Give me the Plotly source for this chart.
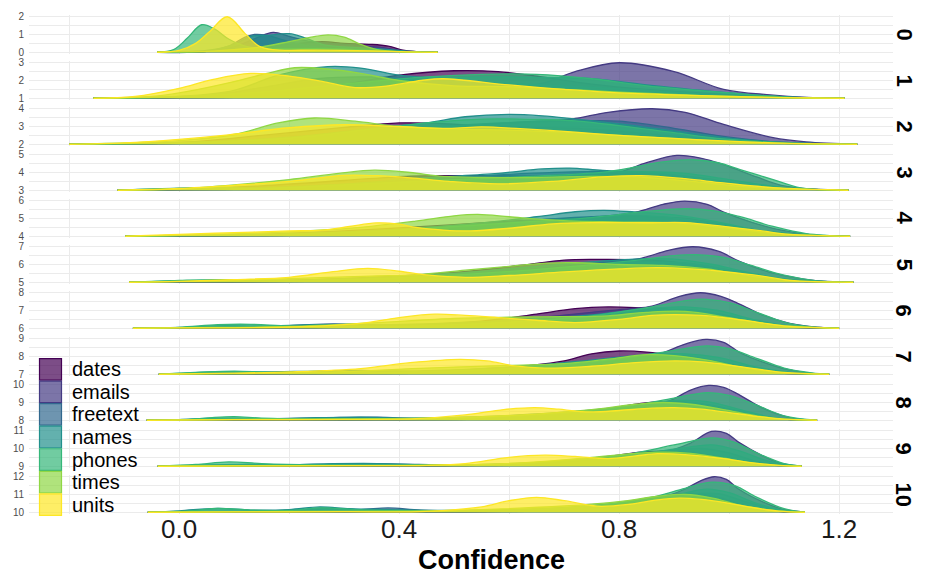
import plotly.graph_objects as go
from plotly.subplots import make_subplots

# ---------------- data ----------------
CATEGORIES = ["dates", "emails", "freetext", "names", "phones", "times", "units"]
COLORS = ["#440154", "#443A83", "#31688E", "#21908C", "#35B779", "#8FD744", "#FDE725"]
FACETS = [0, 1, 2, 3, 4, 5, 6, 7, 8, 9, 10]
X_TICKS = [0.0, 0.4, 0.8, 1.2]
X_TICK_TEXT = ["0.0", "0.4", "0.8", "1.2"]
X_MINOR = [-0.2, 0.2, 0.6, 1.0]

# ridge heights (density, scaled) read at confidence values, one list per facet
DATES = [
    [(-0.04,0),(0.05,0.05),(0.12,0.2),(0.2,0.45),(0.26,0.6),(0.3,0.5),(0.345,0.45),(0.38,0.35),(0.41,0.1),(0.44,0.02),(0.47,0)],
    [(-0.156,0),(0.0,0.05),(0.15,0.3),(0.3,0.8),(0.4,1.3),(0.5,1.55),(0.58,1.5),(0.66,1.2),(0.75,0.8),(0.85,0.5),(1.0,0.2),(1.1,0.05),(1.21,0)],
    [(-0.2,0),(0.0,0.1),(0.15,0.5),(0.3,0.95),(0.4,1.2),(0.47,1.18),(0.55,1.05),(0.65,0.95),(0.75,0.85),(0.85,0.6),(1.0,0.2),(1.1,0.05),(1.233,0)],
    [(-0.112,0),(0.0,0.05),(0.15,0.25),(0.3,0.55),(0.42,0.8),(0.5,0.83),(0.57,0.82),(0.65,0.8),(0.75,0.9),(0.85,0.95),(0.95,0.6),(1.05,0.2),(1.217,0)],
    [(-0.098,0),(0.1,0.05),(0.3,0.3),(0.5,0.65),(0.6,0.85),(0.68,0.97),(0.75,1.05),(0.85,1.1),(0.92,1.0),(1.0,0.6),(1.1,0.15),(1.22,0)],
    [(-0.091,0),(0.1,0.05),(0.3,0.2),(0.5,0.55),(0.62,0.95),(0.7,1.25),(0.76,1.29),(0.82,1.28),(0.88,1.2),(0.95,0.9),(1.03,0.4),(1.1,0.1),(1.226,0)],
    [(-0.084,0),(0.2,0.03),(0.4,0.15),(0.55,0.4),(0.65,0.8),(0.72,1.1),(0.78,1.2),(0.84,1.15),(0.9,1.05),(0.96,0.8),(1.03,0.35),(1.1,0.08),(1.2,0)],
    [(-0.037,0),(0.2,0.03),(0.4,0.1),(0.55,0.3),(0.64,0.5),(0.7,0.75),(0.75,1.15),(0.8,1.31),(0.85,1.25),(0.9,1.05),(0.96,0.7),(1.03,0.25),(1.1,0.05),(1.182,0)],
    [(-0.059,0),(0.3,0.02),(0.55,0.1),(0.7,0.35),(0.78,0.65),(0.84,0.95),(0.88,1.05),(0.92,1.02),(0.97,0.8),(1.03,0.35),(1.1,0.06),(1.16,0)],
    [(-0.039,0),(0.3,0.02),(0.55,0.08),(0.7,0.3),(0.78,0.55),(0.84,0.8),(0.88,0.85),(0.93,0.8),(0.98,0.55),(1.04,0.15),(1.132,0)],
    [(-0.057,0),(0.4,0.02),(0.6,0.06),(0.75,0.3),(0.84,0.7),(0.9,1.0),(0.94,1.05),(0.98,0.85),(1.03,0.35),(1.09,0.05),(1.138,0)],
]
EMAILS = [
    [(-0.04,0),(0.05,0.05),(0.1,0.3),(0.14,0.8),(0.171,1.12),(0.2,0.9),(0.24,0.6),(0.3,0.45),(0.36,0.3),(0.42,0.05),(0.47,0)],
    [(-0.156,0),(0.1,0.05),(0.3,0.2),(0.45,0.45),(0.58,0.65),(0.66,0.84),(0.72,1.5),(0.8,2.0),(0.9,1.5),(0.99,0.5),(1.075,0.19),(1.14,0.05),(1.21,0)],
    [(-0.2,0),(0.0,0.05),(0.2,0.25),(0.4,0.7),(0.55,1.1),(0.65,1.3),(0.714,1.42),(0.78,1.8),(0.86,2.0),(0.92,1.8),(0.99,1.12),(1.08,0.37),(1.14,0.13),(1.233,0)],
    [(-0.112,0),(0.1,0.05),(0.3,0.25),(0.5,0.55),(0.65,0.8),(0.75,0.95),(0.8,1.03),(0.85,1.55),(0.905,1.96),(0.95,1.8),(0.99,1.44),(1.05,0.75),(1.095,0.28),(1.15,0.06),(1.217,0)],
    [(-0.098,0),(0.2,0.05),(0.45,0.35),(0.6,0.7),(0.7,0.95),(0.78,1.15),(0.83,1.36),(0.88,1.8),(0.919,1.98),(0.96,1.8),(0.99,1.36),(1.04,0.8),(1.095,0.34),(1.15,0.08),(1.22,0)],
    [(-0.091,0),(0.2,0.03),(0.4,0.2),(0.6,0.6),(0.72,0.95),(0.8,1.2),(0.84,1.35),(0.89,1.8),(0.934,2.0),(0.98,1.75),(1.02,1.16),(1.07,0.6),(1.11,0.32),(1.16,0.08),(1.226,0)],
    [(-0.084,0),(0.2,0.02),(0.4,0.1),(0.6,0.45),(0.75,0.9),(0.82,1.1),(0.86,1.25),(0.91,1.8),(0.948,2.0),(0.985,1.8),(1.02,1.35),(1.06,0.75),(1.11,0.28),(1.16,0.06),(1.2,0)],
    [(-0.037,0),(0.3,0.02),(0.5,0.1),(0.65,0.4),(0.78,0.85),(0.87,1.12),(0.92,1.7),(0.958,1.96),(0.99,1.8),(1.02,1.21),(1.06,0.7),(1.11,0.24),(1.15,0.05),(1.182,0)],
    [(-0.059,0),(0.4,0.02),(0.6,0.1),(0.75,0.45),(0.84,0.85),(0.89,1.08),(0.93,1.7),(0.963,1.96),(0.99,1.85),(1.017,1.46),(1.06,0.7),(1.11,0.15),(1.16,0)],
    [(-0.039,0),(0.5,0.02),(0.7,0.15),(0.82,0.5),(0.9,0.95),(0.93,1.3),(0.968,1.96),(0.995,1.85),(1.017,1.36),(1.06,0.6),(1.095,0.15),(1.132,0)],
    [(-0.057,0),(0.5,0.02),(0.7,0.12),(0.82,0.5),(0.89,0.95),(0.92,1.31),(0.95,1.8),(0.973,2.0),(0.995,1.85),(1.017,1.31),(1.06,0.6),(1.095,0.19),(1.138,0)],
]
FREETEXT = [
    [(-0.04,0),(0.05,0.05),(0.09,0.35),(0.12,0.85),(0.137,1.0),(0.16,0.95),(0.2,0.6),(0.25,0.3),(0.32,0.15),(0.4,0.05),(0.47,0)],
    [(-0.156,0),(0.05,0.15),(0.15,0.6),(0.25,1.1),(0.35,1.2),(0.45,1.0),(0.55,0.9),(0.7,0.7),(0.85,0.45),(1.0,0.15),(1.21,0)],
    [(-0.2,0),(0.0,0.08),(0.2,0.35),(0.4,0.8),(0.55,1.15),(0.7,1.3),(0.8,1.3),(0.9,0.9),(1.0,0.4),(1.1,0.1),(1.233,0)],
    [(-0.112,0),(0.0,0.05),(0.2,0.2),(0.4,0.5),(0.6,0.9),(0.75,1.05),(0.85,1.0),(0.95,0.7),(1.05,0.25),(1.217,0)],
    [(-0.098,0),(0.2,0.1),(0.4,0.35),(0.6,0.8),(0.75,1.1),(0.85,1.15),(0.95,0.85),(1.05,0.35),(1.15,0.05),(1.22,0)],
    [(-0.091,0),(0.1,0.08),(0.3,0.15),(0.5,0.4),(0.7,0.85),(0.82,1.1),(0.92,1.1),(1.0,0.7),(1.08,0.25),(1.226,0)],
    [(-0.084,0),(0.0,0.03),(0.1,0.1),(0.2,0.15),(0.28,0.25),(0.34,0.2),(0.45,0.22),(0.6,0.4),(0.75,0.7),(0.85,1.0),(0.93,1.05),(1.0,0.7),(1.08,0.2),(1.2,0)],
    [(-0.037,0),(0.05,0.05),(0.15,0.1),(0.25,0.15),(0.33,0.22),(0.42,0.15),(0.55,0.25),(0.7,0.6),(0.83,1.0),(0.92,1.05),(1.0,0.6),(1.08,0.15),(1.182,0)],
    [(-0.059,0),(0.1,0.05),(0.2,0.1),(0.28,0.15),(0.36,0.17),(0.45,0.1),(0.6,0.2),(0.75,0.5),(0.85,0.85),(0.93,1.0),(1.0,0.65),(1.07,0.15),(1.16,0)],
    [(-0.039,0),(0.1,0.05),(0.25,0.1),(0.32,0.14),(0.4,0.12),(0.5,0.08),(0.65,0.15),(0.78,0.45),(0.88,0.85),(0.95,1.0),(1.0,0.75),(1.06,0.2),(1.132,0)],
    [(-0.057,0),(0.1,0.05),(0.2,0.1),(0.27,0.2),(0.33,0.15),(0.38,0.24),(0.44,0.12),(0.55,0.1),(0.7,0.25),(0.82,0.6),(0.92,1.0),(0.98,1.05),(1.03,0.6),(1.09,0.12),(1.138,0)],
]
NAMES = [
    [(-0.04,0),(0.05,0.1),(0.1,0.45),(0.13,0.9),(0.16,0.95),(0.2,1.05),(0.23,0.8),(0.26,0.45),(0.3,0.3),(0.36,0.2),(0.42,0.05),(0.47,0)],
    [(-0.156,0),(0.0,0.1),(0.1,0.45),(0.18,1.3),(0.27,1.78),(0.33,1.7),(0.4,1.3),(0.47,1.15),(0.55,1.2),(0.65,1.18),(0.75,1.1),(0.85,0.75),(1.0,0.3),(1.1,0.08),(1.21,0)],
    [(-0.2,0),(0.0,0.1),(0.2,0.4),(0.35,0.9),(0.45,1.2),(0.52,1.55),(0.6,1.68),(0.66,1.6),(0.72,1.42),(0.8,1.15),(0.9,0.75),(1.0,0.35),(1.1,0.1),(1.233,0)],
    [(-0.112,0),(0.0,0.12),(0.07,0.15),(0.15,0.12),(0.3,0.35),(0.45,0.7),(0.58,0.95),(0.66,1.2),(0.71,1.25),(0.77,1.12),(0.84,1.05),(0.92,0.95),(1.0,0.6),(1.1,0.15),(1.217,0)],
    [(-0.098,0),(0.0,0.05),(0.2,0.15),(0.4,0.4),(0.55,0.75),(0.65,1.1),(0.72,1.38),(0.773,1.46),(0.83,1.36),(0.9,1.2),(0.98,0.8),(1.06,0.3),(1.15,0.05),(1.22,0)],
    [(-0.091,0),(0.0,0.08),(0.1,0.12),(0.17,0.08),(0.3,0.2),(0.5,0.5),(0.65,0.9),(0.75,1.15),(0.84,1.32),(0.9,1.3),(0.97,1.0),(1.05,0.45),(1.12,0.1),(1.226,0)],
    [(-0.084,0),(0.0,0.05),(0.08,0.15),(0.15,0.12),(0.25,0.2),(0.32,0.18),(0.45,0.25),(0.6,0.45),(0.75,0.75),(0.85,1.1),(0.92,1.2),(0.98,1.0),(1.05,0.45),(1.12,0.1),(1.2,0)],
    [(-0.037,0),(0.0,0.05),(0.08,0.15),(0.15,0.12),(0.25,0.18),(0.32,0.2),(0.45,0.2),(0.6,0.4),(0.75,0.8),(0.85,1.1),(0.92,1.15),(0.98,0.95),(1.05,0.4),(1.12,0.08),(1.182,0)],
    [(-0.059,0),(0.0,0.04),(0.05,0.1),(0.1,0.12),(0.18,0.08),(0.25,0.14),(0.33,0.18),(0.42,0.12),(0.55,0.2),(0.7,0.45),(0.82,0.8),(0.9,1.1),(0.96,1.05),(1.02,0.6),(1.08,0.15),(1.16,0)],
    [(-0.039,0),(0.05,0.08),(0.12,0.1),(0.2,0.08),(0.28,0.14),(0.36,0.15),(0.45,0.08),(0.6,0.12),(0.75,0.35),(0.85,0.75),(0.92,1.05),(0.97,1.2),(1.02,0.85),(1.07,0.3),(1.132,0)],
    [(-0.057,0),(0.0,0.08),(0.07,0.22),(0.13,0.12),(0.2,0.15),(0.256,0.3),(0.31,0.2),(0.38,0.15),(0.5,0.1),(0.65,0.2),(0.8,0.5),(0.9,0.95),(0.96,1.3),(1.0,1.1),(1.05,0.5),(1.1,0.1),(1.138,0)],
]
PHONES = [
    [(-0.04,0),(-0.01,0.15),(0.015,0.8),(0.041,1.55),(0.065,1.3),(0.09,0.75),(0.12,0.35),(0.16,0.2),(0.25,0.2),(0.32,0.15),(0.4,0.05),(0.47,0)],
    [(-0.156,0),(0.0,0.1),(0.15,0.35),(0.3,0.8),(0.45,1.2),(0.55,1.35),(0.65,1.35),(0.75,1.1),(0.85,0.7),(1.0,0.3),(1.1,0.08),(1.21,0)],
    [(-0.2,0),(0.0,0.08),(0.2,0.35),(0.35,0.85),(0.45,1.2),(0.55,1.42),(0.65,1.4),(0.72,1.32),(0.8,1.05),(0.9,0.65),(0.99,0.3),(1.1,0.08),(1.233,0)],
    [(-0.112,0),(0.0,0.1),(0.07,0.14),(0.15,0.1),(0.3,0.3),(0.5,0.6),(0.65,0.8),(0.78,1.05),(0.88,1.6),(0.934,1.72),(0.98,1.55),(1.02,1.16),(1.08,0.6),(1.13,0.13),(1.217,0)],
    [(-0.098,0),(0.0,0.05),(0.2,0.12),(0.4,0.35),(0.6,0.75),(0.75,1.05),(0.85,1.4),(0.92,1.55),(0.97,1.45),(1.02,1.1),(1.08,0.55),(1.14,0.15),(1.22,0)],
    [(-0.091,0),(0.0,0.1),(0.08,0.15),(0.17,0.08),(0.3,0.15),(0.5,0.4),(0.7,0.85),(0.82,1.2),(0.9,1.5),(0.94,1.55),(0.99,1.4),(1.04,0.95),(1.1,0.4),(1.16,0.08),(1.226,0)],
    [(-0.084,0),(0.0,0.05),(0.07,0.2),(0.13,0.22),(0.2,0.12),(0.3,0.1),(0.45,0.15),(0.6,0.35),(0.75,0.7),(0.86,1.2),(0.93,1.6),(0.96,1.63),(1.0,1.45),(1.05,0.9),(1.1,0.35),(1.15,0.08),(1.2,0)],
    [(-0.037,0),(0.03,0.1),(0.1,0.18),(0.16,0.12),(0.25,0.1),(0.4,0.12),(0.55,0.25),(0.7,0.55),(0.82,0.95),(0.9,1.35),(0.96,1.6),(1.0,1.45),(1.05,0.9),(1.1,0.35),(1.15,0.08),(1.182,0)],
    [(-0.059,0),(0.02,0.05),(0.06,0.15),(0.1,0.2),(0.15,0.12),(0.25,0.06),(0.4,0.06),(0.55,0.15),(0.7,0.4),(0.82,0.8),(0.9,1.25),(0.96,1.55),(1.0,1.4),(1.05,0.85),(1.1,0.25),(1.16,0)],
    [(-0.039,0),(0.03,0.1),(0.09,0.24),(0.15,0.15),(0.25,0.08),(0.4,0.06),(0.55,0.1),(0.7,0.3),(0.82,0.7),(0.9,1.2),(0.97,1.6),(1.01,1.35),(1.05,0.75),(1.1,0.15),(1.132,0)],
    [(-0.057,0),(0.02,0.08),(0.07,0.22),(0.13,0.12),(0.2,0.1),(0.26,0.25),(0.32,0.15),(0.45,0.08),(0.6,0.12),(0.75,0.35),(0.86,0.85),(0.92,1.35),(0.97,1.7),(1.01,1.5),(1.05,0.85),(1.1,0.2),(1.138,0)],
]
TIMES = [
    [(-0.04,0),(0.05,0.05),(0.1,0.15),(0.15,0.3),(0.2,0.6),(0.24,0.85),(0.271,0.98),(0.3,0.85),(0.33,0.45),(0.36,0.15),(0.4,0.03),(0.47,0)],
    [(-0.156,0),(-0.05,0.1),(0.0,0.3),(0.08,0.8),(0.16,1.4),(0.21,1.72),(0.27,1.65),(0.33,1.4),(0.4,1.0),(0.5,0.7),(0.6,0.65),(0.7,0.5),(0.8,0.35),(0.95,0.15),(1.1,0.03),(1.21,0)],
    [(-0.2,0),(0.0,0.2),(0.1,0.55),(0.18,1.2),(0.246,1.48),(0.32,1.3),(0.4,1.0),(0.5,0.85),(0.6,0.8),(0.7,0.68),(0.8,0.5),(0.9,0.32),(1.0,0.15),(1.1,0.04),(1.233,0)],
    [(-0.112,0),(0.0,0.08),(0.1,0.3),(0.2,0.6),(0.29,0.95),(0.355,1.13),(0.42,1.0),(0.48,0.78),(0.55,0.72),(0.65,0.72),(0.75,0.78),(0.85,0.72),(0.95,0.45),(1.05,0.15),(1.217,0)],
    [(-0.098,0),(0.0,0.05),(0.2,0.25),(0.33,0.5),(0.43,0.85),(0.5,1.15),(0.543,1.23),(0.6,1.1),(0.66,0.95),(0.72,0.85),(0.82,0.8),(0.9,0.75),(1.0,0.45),(1.1,0.12),(1.22,0)],
    [(-0.091,0),(0.0,0.05),(0.1,0.12),(0.2,0.2),(0.35,0.35),(0.43,0.42),(0.52,0.68),(0.6,0.9),(0.67,1.08),(0.72,1.1),(0.8,1.0),(0.88,0.95),(0.96,0.75),(1.04,0.35),(1.12,0.08),(1.226,0)],
    [(-0.084,0),(0.0,0.03),(0.2,0.1),(0.35,0.3),(0.5,0.55),(0.6,0.62),(0.7,0.65),(0.78,0.7),(0.85,0.9),(0.92,0.95),(1.0,0.6),(1.08,0.2),(1.2,0)],
    [(-0.037,0),(0.1,0.03),(0.3,0.15),(0.45,0.35),(0.6,0.5),(0.7,0.6),(0.78,0.85),(0.85,1.1),(0.9,1.05),(0.96,0.8),(1.03,0.35),(1.1,0.08),(1.182,0)],
    [(-0.059,0),(0.1,0.05),(0.3,0.08),(0.5,0.15),(0.65,0.35),(0.75,0.6),(0.83,0.9),(0.88,1.0),(0.93,0.9),(0.99,0.6),(1.05,0.25),(1.1,0.06),(1.16,0)],
    [(-0.039,0),(0.2,0.03),(0.4,0.05),(0.55,0.1),(0.65,0.25),(0.75,0.5),(0.83,0.72),(0.88,0.8),(0.93,0.72),(0.99,0.45),(1.05,0.15),(1.132,0)],
    [(-0.057,0),(0.2,0.04),(0.4,0.06),(0.55,0.15),(0.7,0.35),(0.8,0.6),(0.87,0.9),(0.92,1.0),(0.97,0.8),(1.02,0.4),(1.08,0.1),(1.138,0)],
]
UNITS = [
    [(-0.04,0),(0.0,0.1),(0.03,0.5),(0.055,1.15),(0.0875,2.0),(0.12,1.05),(0.145,0.35),(0.17,0.15),(0.25,0.12),(0.35,0.08),(0.42,0.02),(0.47,0)],
    [(-0.156,0),(-0.08,0.1),(0.0,0.56),(0.06,1.05),(0.13,1.4),(0.2,1.25),(0.26,0.95),(0.32,0.6),(0.38,0.7),(0.44,1.0),(0.48,1.1),(0.6,0.75),(0.7,0.5),(0.8,0.3),(0.95,0.15),(1.1,0.04),(1.21,0)],
    [(-0.2,0),(-0.1,0.08),(0.0,0.28),(0.09,0.53),(0.2,0.93),(0.3,1.1),(0.4,1.0),(0.49,0.9),(0.55,0.98),(0.62,0.88),(0.72,0.68),(0.8,0.5),(0.9,0.33),(0.99,0.19),(1.1,0.06),(1.233,0)],
    [(-0.112,0),(0.0,0.1),(0.1,0.28),(0.2,0.5),(0.3,0.84),(0.36,0.82),(0.42,0.7),(0.49,0.5),(0.58,0.36),(0.68,0.5),(0.77,0.75),(0.84,0.82),(0.92,0.65),(0.99,0.41),(1.08,0.15),(1.217,0)],
    [(-0.098,0),(0.0,0.11),(0.1,0.2),(0.2,0.3),(0.26,0.34),(0.31,0.55),(0.358,0.75),(0.4,0.68),(0.43,0.5),(0.48,0.35),(0.53,0.3),(0.6,0.45),(0.68,0.7),(0.75,0.77),(0.85,0.76),(0.92,0.77),(0.99,0.56),(1.06,0.3),(1.11,0.1),(1.22,0)],
    [(-0.091,0),(0.0,0.05),(0.1,0.15),(0.2,0.28),(0.28,0.6),(0.343,0.78),(0.4,0.62),(0.45,0.41),(0.52,0.28),(0.6,0.38),(0.7,0.58),(0.8,0.75),(0.87,0.82),(0.93,0.75),(0.99,0.6),(1.06,0.35),(1.11,0.1),(1.226,0)],
    [(-0.084,0),(0.0,0.02),(0.2,0.07),(0.33,0.28),(0.4,0.6),(0.465,0.79),(0.52,0.72),(0.58,0.6),(0.65,0.45),(0.72,0.32),(0.8,0.5),(0.86,0.72),(0.9,0.77),(0.95,0.72),(0.99,0.6),(1.05,0.35),(1.11,0.1),(1.2,0)],
    [(-0.037,0),(0.1,0.06),(0.2,0.13),(0.33,0.32),(0.42,0.65),(0.51,0.84),(0.56,0.75),(0.61,0.47),(0.665,0.34),(0.75,0.45),(0.83,0.65),(0.9,0.75),(0.95,0.7),(0.99,0.56),(1.05,0.3),(1.1,0.1),(1.182,0)],
    [(-0.059,0),(0.1,0.03),(0.3,0.05),(0.43,0.09),(0.52,0.3),(0.59,0.6),(0.646,0.71),(0.69,0.62),(0.72,0.52),(0.753,0.47),(0.8,0.55),(0.86,0.68),(0.9,0.71),(0.95,0.62),(0.99,0.47),(1.05,0.22),(1.1,0.06),(1.16,0)],
    [(-0.039,0),(0.1,0.02),(0.3,0.03),(0.45,0.05),(0.52,0.15),(0.6,0.5),(0.665,0.62),(0.72,0.55),(0.78,0.43),(0.83,0.58),(0.87,0.71),(0.92,0.65),(0.99,0.43),(1.04,0.2),(1.09,0.05),(1.132,0)],
    [(-0.057,0),(0.1,0.02),(0.3,0.03),(0.45,0.05),(0.55,0.3),(0.6,0.65),(0.65,0.84),(0.7,0.65),(0.76,0.34),(0.82,0.45),(0.87,0.7),(0.91,0.79),(0.95,0.72),(0.99,0.56),(1.04,0.28),(1.09,0.06),(1.138,0)],
]
SERIES = [DATES, EMAILS, FREETEXT, NAMES, PHONES, TIMES, UNITS]

# ---------------- layout constants ----------------
W, H = 925, 576
ML, MR, MT, MB = 29, 32, 11.5, 62.2
PW = W - ML - MR
PH = H - MT - MB
N = len(FACETS)
GAP_PX = 7.0
VS = GAP_PX / PH
FONT = "Liberation Sans, Arial, sans-serif"
GRID = "#EBEBEB"
ALPHA = 0.7


def rgba(hex_color, a):
    h = hex_color.lstrip("#")
    r, g, b = int(h[0:2], 16), int(h[2:4], 16), int(h[4:6], 16)
    return f"rgba({r},{g},{b},{a})"


def px_x(p):
    return (p - ML) / PW


def px_y(p):
    return (H - MB - p) / PH


fig = make_subplots(rows=N, cols=1, shared_xaxes=True, vertical_spacing=VS)

for i, k in enumerate(FACETS):
    for cat, color, series in zip(CATEGORIES, COLORS, SERIES):
        pts = series[i]
        xs = [p[0] for p in pts]
        ys = [k + p[1] for p in pts]
        fig.add_trace(go.Scatter(x=[xs[0], xs[-1]], y=[k, k], mode="lines",
                                 line=dict(width=0, color=rgba(color, 0)),
                                 hoverinfo="skip", showlegend=False),
                      row=i + 1, col=1)
        fig.add_trace(go.Scatter(x=xs, y=ys, mode="lines", name=cat,
                                 line=dict(color=color, width=1.3, shape="spline", smoothing=1.0),
                                 fill="tonexty", fillcolor=rgba(color, ALPHA),
                                 showlegend=False),
                      row=i + 1, col=1)
    yname = "yaxis" if i == 0 else f"yaxis{i + 1}"
    fig.layout[yname].update(
        range=[k - 0.1, k + 2.1],
        tickvals=[k, k + 1, k + 2], ticktext=[str(k), str(k + 1), str(k + 2)],
        showgrid=True, gridcolor=GRID, gridwidth=1.1, zeroline=False,
        minor=dict(tickvals=[k + 0.5, k + 1.5], showgrid=True, gridcolor=GRID, gridwidth=0.9),
        ticks="", ticklabelstandoff=4,
        tickfont=dict(family=FONT, size=10, color="#4D4D4D"),
        showline=False, fixedrange=True,
    )
    xname = "xaxis" if i == 0 else f"xaxis{i + 1}"
    fig.layout[xname].update(
        range=[-0.273, 1.298],
        tickvals=X_TICKS, ticktext=X_TICK_TEXT,
        showgrid=True, gridcolor=GRID, gridwidth=1.1, zeroline=False,
        minor=dict(tickvals=X_MINOR, showgrid=True, gridcolor=GRID, gridwidth=0.9),
        ticks="", showline=False, ticklabelstandoff=-3,
        tickfont=dict(family=FONT, size=26, color="#1A1A1A"),
    )
    # strip label on the right
    dom = fig.layout[yname].domain
    fig.add_annotation(xref="paper", yref="paper", x=px_x(904), y=(dom[0] + dom[1]) / 2,
                       text=f"<b>{k}</b>", showarrow=False, textangle=90,
                       font=dict(family=FONT, size=22, color="#000000"),
                       xanchor="center", yanchor="middle")

# x axis title
fig.add_annotation(xref="paper", yref="paper", x=px_x(491), y=px_y(560),
                   text="<b>Confidence</b>", showarrow=False,
                   font=dict(family=FONT, size=27, color="#000000"),
                   xanchor="center", yanchor="middle")

# legend (inside, bottom-left)
KEY_TOP, KEY_PITCH, KEY_H = 357.3, 22.7, 21.7
for j, (cat, color) in enumerate(zip(CATEGORIES, COLORS)):
    y0 = KEY_TOP + j * KEY_PITCH
    fig.add_shape(type="rect", xref="paper", yref="paper",
                  x0=px_x(39.5), x1=px_x(61.5), y0=px_y(y0 + KEY_H), y1=px_y(y0),
                  fillcolor=rgba(color, ALPHA), line=dict(color=color, width=1.2))
    fig.add_annotation(xref="paper", yref="paper", x=px_x(70), y=px_y(y0 + KEY_H / 2),
                       text=cat, showarrow=False,
                       font=dict(family=FONT, size=20, color="#000000"),
                       xanchor="left", yanchor="middle")

fig.update_layout(
    width=W, height=H,
    margin=dict(l=ML, r=MR, t=MT, b=MB, pad=0),
    paper_bgcolor="white", plot_bgcolor="white",
    showlegend=False,
    font=dict(family=FONT),
)

fig.write_html("out.html")
